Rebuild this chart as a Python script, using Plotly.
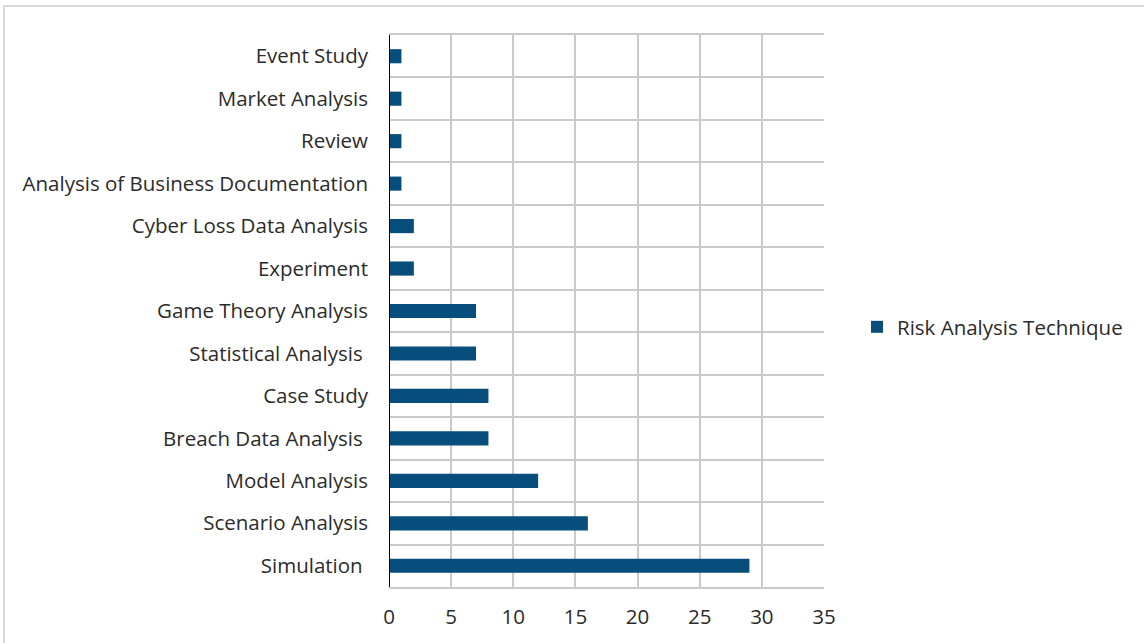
import plotly.graph_objects as go

# Risk analysis techniques, listed bottom to top
techniques = [
    "Simulation\u00a0",
    "Scenario Analysis",
    "Model Analysis",
    "Breach Data Analysis\u00a0",
    "Case Study",
    "Statistical Analysis\u00a0",
    "Game Theory Analysis",
    "Experiment",
    "Cyber Loss Data Analysis",
    "Analysis of Business Documentation",
    "Review",
    "Market Analysis",
    "Event Study",
]
counts = [29, 16, 12, 8, 8, 7, 7, 2, 2, 1, 1, 1, 1]
series_name = "Risk Analysis Technique"
x_ticks = [0, 5, 10, 15, 20, 25, 30, 35]

W, H = 1144, 643
L, R, T, B = 389, 824, 35, 587

BAR = "#074E7C"
GRID = "#C9C9C9"
FONT = dict(family="Open Sans, sans-serif", size=20.5, color="#2b2b2b")

fig = go.Figure(
    go.Bar(
        x=counts,
        y=techniques,
        orientation="h",
        name=series_name,
        marker=dict(color=BAR, line=dict(width=0)),
        showlegend=True,
    )
)

pw, ph = R - L, B - T

fig.update_layout(
    width=W,
    height=H,
    margin=dict(l=L, r=W - R, t=T, b=H - B, pad=0),
    paper_bgcolor="white",
    plot_bgcolor="white",
    font=FONT,
    bargap=0.667,
    showlegend=True,
    legend=dict(
        x=(857 - L) / pw,
        y=(B - 327) / ph,
        xanchor="left",
        yanchor="middle",
        font=FONT,
        itemwidth=30,
        bgcolor="rgba(0,0,0,0)",
    ),
    xaxis=dict(
        range=[0, 35],
        tickvals=x_ticks,
        showgrid=True,
        gridcolor=GRID,
        gridwidth=2,
        zeroline=False,
        showline=True,
        linecolor=GRID,
        linewidth=2,
        mirror=True,
        ticks="",
        ticklabelstandoff=10,
        fixedrange=True,
    ),
    yaxis=dict(
        type="category",
        categoryorder="array",
        categoryarray=techniques,
        tickson="boundaries",
        showgrid=True,
        gridcolor=GRID,
        gridwidth=2,
        showline=False,
        ticks="",
        ticklabelstandoff=20,
        fixedrange=True,
    ),
    shapes=[
        # dark value axis at zero
        dict(type="line", xref="x", yref="paper", x0=0, x1=0, y0=0, y1=1,
             line=dict(color="#000000", width=2)),
        # light frame around the chart area
        dict(type="rect", xref="paper", yref="paper",
             x0=(4 - L) / pw, x1=(1150 - L) / pw,
             y0=(B - 660) / ph, y1=(B - 6) / ph,
             line=dict(color="#D9D9D9", width=2), layer="below"),
    ],
)

fig.write_html("out.html")
